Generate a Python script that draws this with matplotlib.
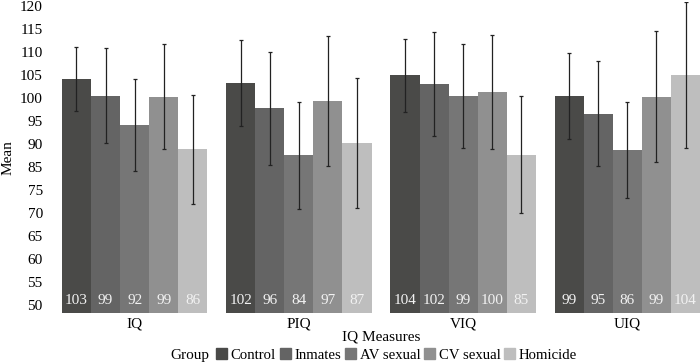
import numpy as np
import matplotlib
matplotlib.use("Agg")
import matplotlib.pyplot as plt
from matplotlib.patches import Patch

plt.rcParams["font.family"] = ["Liberation Serif", "DejaVu Serif"]

# ---- data ----
measures = ["IQ", "PIQ", "VIQ", "UIQ"]
groups = ["Control", "Inmates", "AV sexual", "CV sexual", "Homicide"]
colors = ["#4a4a48", "#646464", "#767676", "#909090", "#bebebe"]

# bar heights per group (one value per measure)
control = [102.5, 101.7, 103.4, 98.7]
inmates = [98.8, 96.0, 101.5, 94.8]
av_sexual = [92.2, 85.4, 98.8, 86.6]
cv_sexual = [98.6, 97.6, 99.7, 98.6]
homicide = [86.8, 88.2, 85.6, 103.5]

# standard deviations (error bars)
control_sd = [7.2, 9.6, 8.2, 9.7]
inmates_sd = [10.7, 12.7, 11.7, 11.8]
av_sexual_sd = [10.4, 12.0, 11.7, 10.8]
cv_sexual_sd = [11.8, 14.6, 12.8, 14.7]
homicide_sd = [12.3, 14.5, 13.2, 16.4]

# value labels printed in the bars
control_lbl = [103, 102, 104, 99]
inmates_lbl = [99, 96, 102, 95]
av_sexual_lbl = [92, 84, 99, 86]
cv_sexual_lbl = [99, 97, 100, 99]
homicide_lbl = [86, 87, 85, 104]

means = [control, inmates, av_sexual, cv_sexual, homicide]
sds = [control_sd, inmates_sd, av_sexual_sd, cv_sexual_sd, homicide_sd]
labels = [control_lbl, inmates_lbl, av_sexual_lbl, cv_sexual_lbl, homicide_lbl]

# the source axis prints these 14 labels evenly spaced (no "80")
ytick_labels = ["50", "55", "60", "65", "70", "75", "85", "90", "95", "100",
                "105", "110", "115", "120"]

# ---- plot ----
fig = plt.figure(figsize=(7, 3.63), dpi=100)
ax = fig.add_axes([52.5 / 700, 50 / 363, 657 / 700, 311.5 / 363])

x = np.arange(len(measures))
width = 0.885 / len(groups)
base = 50

for i, g in enumerate(groups):
    pos = x - 0.885 / 2 + width * (i + 0.5)
    heights = np.array(means[i]) - base
    ax.bar(pos, heights, width=width, bottom=base, color=colors[i], label=g,
           yerr=sds[i], error_kw=dict(ecolor="#222222", elinewidth=0.9,
                                      capsize=1.2, capthick=0.9))
    for px, lbl in zip(pos, labels[i]):
        ax.text(px, 52.8, str(lbl), ha="center", va="center",
                color="#f2f2f2", fontsize=11)

ax.set_xlim(-0.5, len(measures) - 0.5)
ax.set_ylim(50, 120)
ax.set_yticks(np.linspace(51.8, 118.9, len(ytick_labels)))
ax.set_yticklabels(ytick_labels)
ax.set_xticks(x)
ax.set_xticklabels(measures)
ax.tick_params(length=0, labelsize=11, pad=3)
ax.tick_params(axis="y", pad=7)
for s in ax.spines.values():
    s.set_visible(False)

ax.set_ylabel("Mean", fontsize=11, labelpad=4)
ax.set_xlabel("IQ Measures", fontsize=11, labelpad=0)

fig.text(170 / 700, 1 - 355 / 363, "Group", ha="left", va="center", fontsize=11)
handles = [Patch(color=c) for c in colors]
fig.legend(handles, groups, loc="center left", bbox_to_anchor=(216 / 700, 1 - 355 / 363),
           ncol=5, frameon=False, fontsize=10.6, handlelength=0.75, handleheight=0.75,
           handletextpad=0.25, columnspacing=0.25, borderpad=0, borderaxespad=0)

fig.savefig("out.png", dpi=100)
